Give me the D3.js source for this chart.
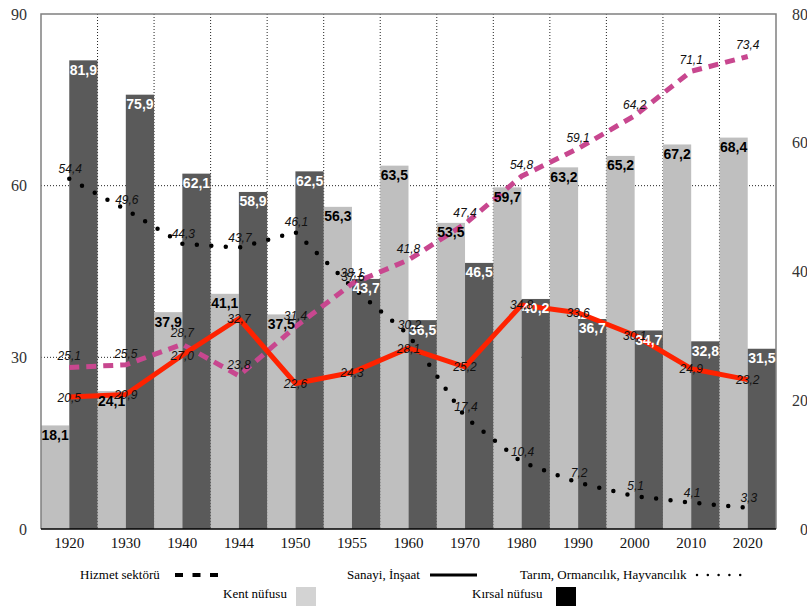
<!DOCTYPE html>
<html><head><meta charset="utf-8">
<script src="https://cdn.jsdelivr.net/npm/d3@7"></script>
<style>body{margin:0;background:#fff}svg{display:block}</style>
</head><body>
<svg id="chart" width="807" height="606"></svg>
<script>
const years = ["1920","1930","1940","1944","1950","1955","1960","1970","1980","1990","2000","2010","2020"];
const kent   = [18.1,24.1,37.9,41.1,37.5,56.3,63.5,53.5,59.7,63.2,65.2,67.2,68.4];
const kirsal = [81.9,75.9,62.1,58.9,62.5,43.7,36.5,46.5,40.2,36.7,34.7,32.8,31.5];
const hizmet = [25.1,25.5,28.7,23.8,31.4,38.1,41.8,47.4,54.8,59.1,64.2,71.1,73.4];
const sanayi = [20.5,20.9,27.0,32.7,22.6,24.3,28.1,25.2,34.8,33.6,30.1,24.9,23.2];
const tarim  = [54.4,49.6,44.3,43.7,46.1,37.6,30.2,17.4,10.4,7.2,5.1,4.1,3.3];
const leftTicks = [0,30,60,90];
const rightTicks = [0,20,40,60,80];

const svg = d3.select("#chart");
const L=41, R=776, T=14, B=529;
const x = d3.scaleBand().domain(years).range([L,R]).paddingInner(0).paddingOuter(0);
const sub = d3.scaleBand().domain(["kent","kirsal"]).range([0,x.bandwidth()]);
const yL = d3.scaleLinear().domain([0,90]).range([B,T]);
const yR = d3.scaleLinear().domain([0,80]).range([B,T]);
const fmt = v => d3.format(".1f")(v).replace(".", ",");
const cx = (d,i) => x(years[i]) + x.bandwidth()/2;

// gridlines
const grid = svg.append("g");
grid.selectAll("line.h").data([30,60]).join("line")
  .attr("x1",L).attr("x2",R).attr("y1",d=>yL(d)).attr("y2",d=>yL(d))
  .attr("stroke","#222").attr("stroke-width",1).attr("stroke-dasharray","1,2");
grid.selectAll("line.v").data(years.slice(1)).join("line")
  .attr("x1",d=>x(d)).attr("x2",d=>x(d)).attr("y1",T).attr("y2",B)
  .attr("stroke","#222").attr("stroke-width",1).attr("stroke-dasharray","1,2");

// bars
const bars = svg.append("g");
bars.selectAll("rect.k").data(kent).join("rect")
  .attr("x",(d,i)=>x(years[i])+sub("kent")).attr("width",sub.bandwidth())
  .attr("y",d=>yL(d)).attr("height",d=>B-yL(d)).attr("fill","#bfbfbf");
bars.selectAll("rect.r").data(kirsal).join("rect")
  .attr("x",(d,i)=>x(years[i])+sub("kirsal")).attr("width",sub.bandwidth())
  .attr("y",d=>yL(d)).attr("height",d=>B-yL(d)).attr("fill","#5a5a5a");

// frame
svg.append("path").attr("d",`M${L},${B}V${T}H${R}V${B}`).attr("fill","none").attr("stroke","#808080").attr("stroke-width",1.5);
svg.append("line").attr("x1",L).attr("x2",R).attr("y1",B).attr("y2",B).attr("stroke","#000").attr("stroke-width",1.5);

// lines
const line = (arr) => d3.line().x((d,i)=>cx(d,i)).y(d=>yR(d))(arr);
svg.append("path").attr("d",line(tarim)).attr("fill","none").attr("stroke","#000")
  .attr("stroke-width",4.5).attr("stroke-linecap","round").attr("stroke-dasharray","0,14.5");
svg.append("path").attr("d",line(hizmet)).attr("fill","none").attr("stroke","#c8478f")
  .attr("stroke-width",5).attr("stroke-dasharray","10,7");
svg.append("path").attr("d",line(sanayi)).attr("fill","none").attr("stroke","#ff2200")
  .attr("stroke-width",5).attr("stroke-linejoin","round");

// bar labels
const bl = svg.append("g").attr("font-family","Liberation Sans, Arial, sans-serif").attr("font-weight","bold").attr("font-size",14).attr("text-anchor","middle");
bl.selectAll("text.k").data(kent).join("text")
  .attr("x",(d,i)=>x(years[i])+sub("kent")+sub.bandwidth()/2).attr("y",d=>yL(d)+14.5)
  .attr("fill","#000").text(fmt);
bl.selectAll("text.r").data(kirsal).join("text")
  .attr("x",(d,i)=>x(years[i])+sub("kirsal")+sub.bandwidth()/2).attr("y",d=>yL(d)+14.5)
  .attr("fill","#fff").text(fmt);

// line labels
const ll = svg.append("g").attr("font-family","Liberation Sans, Arial, sans-serif").attr("font-style","italic").attr("font-size",12).attr("text-anchor","middle").attr("fill","#111");
ll.selectAll("text.t").data(tarim).join("text")
  .attr("x",(d,i)=>cx(d,i)+1).attr("y",d=>yR(d)-6).text(fmt);
ll.selectAll("text.h").data(hizmet).join("text")
  .attr("x",(d,i)=>cx(d,i)).attr("y",d=>yR(d)-7).text(fmt);
ll.selectAll("text.s").data(sanayi).join("text")
  .attr("x",(d,i)=>cx(d,i)).attr("y",d=>yR(d)+4.5).text(fmt);

// axes
const axL = svg.append("g").attr("transform",`translate(${L-14},0)`)
  .call(d3.axisLeft(yL).tickValues(leftTicks).tickSize(0).tickPadding(0));
const axR = svg.append("g").attr("transform",`translate(808,0)`)
  .call(d3.axisLeft(yR).tickValues(rightTicks).tickSize(0).tickPadding(0));
const axB = svg.append("g").attr("transform",`translate(0,${B+8})`)
  .call(d3.axisBottom(x).tickSize(0).tickPadding(0));
[axL,axR,axB].forEach(a=>{
  a.select(".domain").remove();
  a.selectAll("text").attr("font-family","Liberation Serif, Times New Roman, serif").attr("font-size",16).attr("fill","#333");
});
axB.selectAll("text").attr("font-size",15).attr("fill","#111").attr("dy","0.71em");

// legend
const lg = svg.append("g").attr("font-family","Liberation Serif, Times New Roman, serif").attr("font-size",13).attr("fill","#000");
lg.append("text").attr("x",80).attr("y",579).text("Hizmet sektörü");
lg.append("line").attr("x1",175).attr("x2",218).attr("y1",575).attr("y2",575).attr("stroke","#000").attr("stroke-width",4).attr("stroke-dasharray","8,9.5");
lg.append("text").attr("x",347).attr("y",579).text("Sanayi, İnşaat");
lg.append("line").attr("x1",430).attr("x2",477).attr("y1",575).attr("y2",575).attr("stroke","#000").attr("stroke-width",3);
lg.append("text").attr("x",520).attr("y",579).text("Tarım, Ormancılık, Hayvancılık");
lg.append("line").attr("x1",697).attr("x2",742).attr("y1",575).attr("y2",575).attr("stroke","#000").attr("stroke-width",2.5).attr("stroke-linecap","round").attr("stroke-dasharray","0,10.8");
lg.append("text").attr("x",223).attr("y",598).text("Kent nüfusu");
lg.append("rect").attr("x",296).attr("y",587).attr("width",20).attr("height",20).attr("fill","#d3d3d3");
lg.append("text").attr("x",472).attr("y",598).text("Kırsal nüfusu");
lg.append("rect").attr("x",556).attr("y",587).attr("width",20).attr("height",20).attr("fill","#000");
</script>
</body></html>
